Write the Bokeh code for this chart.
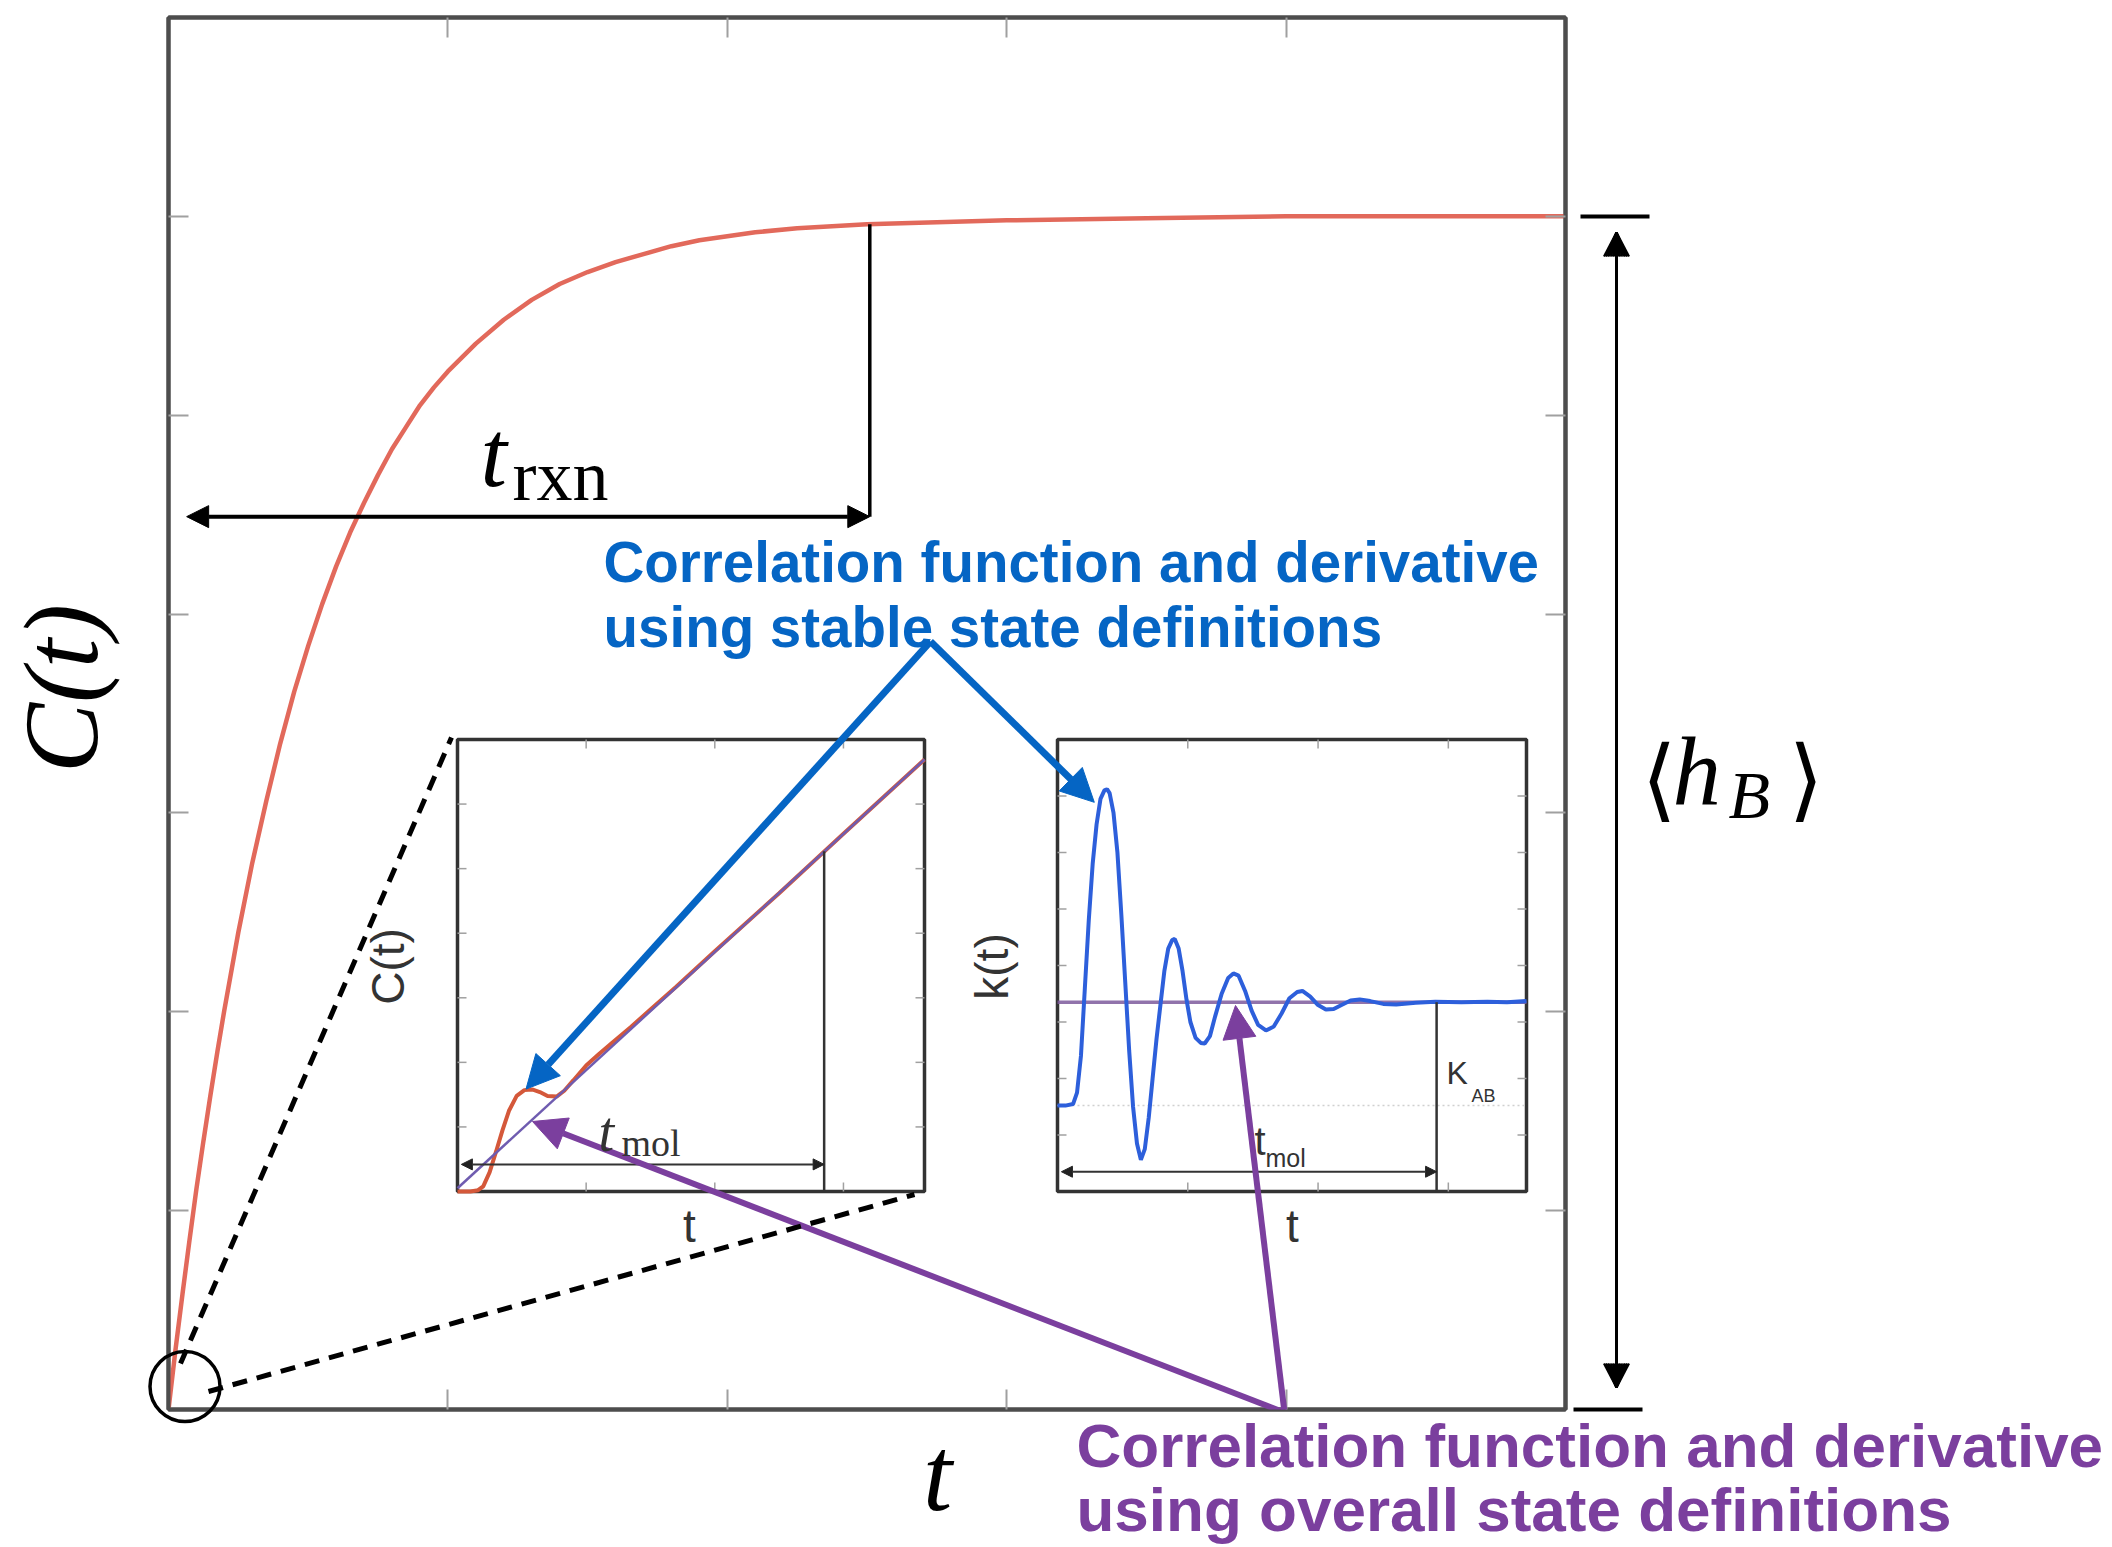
import math
from bokeh.plotting import figure
from bokeh.models import Range1d, LinearAxis, FixedTicker, Label, Arrow, NormalHead
from bokeh.core.properties import value
from bokeh.embed import file_html
from bokeh.resources import INLINE

# ---------------- data ----------------
# main panel: C(t) rising to its plateau <h_B>
main_t = [0.0, 0.025, 0.05, 0.075, 0.1, 0.125, 0.15, 0.175, 0.2, 0.25, 0.3, 0.35, 0.4, 0.45,
          0.5, 0.55, 0.6, 0.65, 0.7, 0.75, 0.8, 0.85, 0.9, 0.95, 1.0, 1.1, 1.2, 1.3, 1.4, 1.5,
          1.6, 1.7, 1.8, 1.9, 2.0, 2.1, 2.25, 2.5, 2.75, 3.0, 3.5, 4.0, 4.5, 5.0]
main_c = [0.0, 0.30, 0.58, 0.85, 1.11, 1.35, 1.58, 1.80, 2.01, 2.40, 2.75, 3.06, 3.35, 3.61,
          3.84, 4.05, 4.24, 4.41, 4.56, 4.70, 4.83, 4.94, 5.05, 5.14, 5.22, 5.36, 5.48, 5.58,
          5.66, 5.72, 5.77, 5.81, 5.85, 5.88, 5.90, 5.92, 5.94, 5.96, 5.97, 5.98, 5.99, 6.0,
          6.0, 6.0]
main_x_ticks = [1, 2, 3, 4]
main_y_ticks = [1, 2, 3, 4, 5, 6]
main_x_max = 5
main_y_max = 7
t_rxn = 2.51
t_rxn_arrow_level = 4.49
c_at_t_rxn = 5.96

# inset 1: C(t) at short times
inset1_t = [0.0, 0.10, 0.16, 0.20, 0.25, 0.30, 0.35, 0.40, 0.46, 0.52, 0.58, 0.64, 0.70,
            0.77, 0.83, 0.90, 1.00, 1.10, 1.20, 1.35, 1.50, 1.70, 2.00, 2.50, 3.00, 3.63]
inset1_c_stable = [0.0, 0.0, 0.02, 0.08, 0.30, 0.62, 0.95, 1.25, 1.48, 1.57, 1.58, 1.54, 1.48,
                   1.47, 1.56, 1.72, 1.95, 2.13, 2.30, 2.55, 2.82, 3.17, 3.72, 4.62, 5.54, 6.69]
inset1_overall_t = [0.0, 3.63]
inset1_c_overall = [0.05, 6.69]
inset1_tmol = 2.85
inset1_c_at_tmol = 5.27
inset1_tmol_arrow_level = 0.42
inset1_x_ticks = [1, 2, 3]
inset1_y_ticks = [1, 2, 3, 4, 5, 6]
inset1_x_max = 3.63
inset1_y_max = 7

# inset 2: k(t)
inset2_t = [0.0, 0.06, 0.12, 0.15, 0.18, 0.21, 0.24, 0.27, 0.30, 0.33, 0.36, 0.38, 0.40, 0.43,
            0.46, 0.49, 0.52, 0.55, 0.58, 0.61, 0.64, 0.67, 0.70, 0.73, 0.76, 0.79, 0.82, 0.85,
            0.88, 0.90, 0.93, 0.96, 0.99, 1.02, 1.06, 1.10, 1.13, 1.17, 1.21, 1.26, 1.31, 1.35,
            1.39, 1.44, 1.49, 1.54, 1.60, 1.66, 1.72, 1.78, 1.84, 1.88, 1.94, 2.00, 2.06, 2.12,
            2.18, 2.25, 2.32, 2.40, 2.50, 2.60, 2.75, 2.90, 3.10, 3.30, 3.45, 3.60]
inset2_k_stable = [1.52, 1.52, 1.55, 1.75, 2.4, 3.6, 4.8, 5.8, 6.5, 6.95, 7.1, 7.12, 7.05, 6.7,
                   6.0, 4.9, 3.7, 2.5, 1.5, 0.85, 0.56, 0.75, 1.3, 2.0, 2.7, 3.3, 3.9, 4.3,
                   4.45, 4.47, 4.3, 3.9, 3.4, 3.0, 2.72, 2.63, 2.62, 2.75, 3.1, 3.5, 3.78, 3.86,
                   3.82, 3.55, 3.2, 2.95, 2.85, 2.92, 3.15, 3.42, 3.53, 3.55, 3.45, 3.30, 3.22, 3.23,
                   3.30, 3.38, 3.40, 3.37, 3.32, 3.31, 3.34, 3.36, 3.35, 3.36, 3.35, 3.37]
inset2_k_overall = 3.35
inset2_k_start = 1.52
inset2_tmol = 2.91
inset2_tmol_arrow_level = 0.35
inset2_x_ticks = [1, 2, 3]
inset2_y_ticks = [1, 2, 3, 4, 5, 6, 7]
inset2_x_max = 3.6
inset2_y_max = 8

# ---------------- layout (page pixels) ----------------
W, H = 2112, 1547
FL, FR, FT, FB = 168, 1565, 17, 1409          # main frame
I1 = (457, 924, 739, 1191)                    # inset 1 box: left, right, top, bottom
I2 = (1057, 1526, 739, 1191)                  # inset 2 box

BLUE = "#0565C4"
PURPLE = "#7B3F9E"
RED = "#E2695B"
SERIF = "Liberation Serif"
SANS = "Liberation Sans"
BASE_SHIFT = 0.3   # empirical correction of the rendered baseline, in em


def mx(px):
    return (px - FL) / (FR - FL) * main_x_max


def my(py):
    return (FB - py) / (FB - FT) * main_y_max


def fit_range(d0, d1, p0, p1, f0, f1):
    k = (d1 - d0) / (p1 - p0)
    return Range1d(start=d0 + (f0 - p0) * k, end=d0 + (f1 - p0) * k)


p = figure(width=W, height=H, output_backend="svg", toolbar_location=None,
           x_range=Range1d(0, main_x_max), y_range=Range1d(0, main_y_max),
           x_axis_location=None, y_axis_location=None,
           min_border_left=FL, min_border_right=W - FR, min_border_top=FT,
           min_border_bottom=H - FB)
p.grid.visible = False
p.outline_line_color = "#4d4d4d"
p.outline_line_width = 4
p.background_fill_color = "white"
p.border_fill_color = "white"

for loc, ticks in [("below", main_x_ticks), ("above", main_x_ticks),
                   ("left", main_y_ticks), ("right", main_y_ticks)]:
    ax = LinearAxis(ticker=FixedTicker(ticks=ticks),
                    major_label_overrides={t: "" for t in ticks},
                    major_tick_in=20, major_tick_out=0, minor_tick_in=0, minor_tick_out=0,
                    major_label_text_font_size="1px", major_label_standoff=0,
                    axis_line_color="#4d4d4d", axis_line_width=4,
                    major_tick_line_color="#a0a0a0", major_tick_line_width=2)
    p.add_layout(ax, loc)

p.extra_x_ranges = {
    "i1x": fit_range(0, inset1_x_max, I1[0], I1[1], FL, FR),
    "i2x": fit_range(0, inset2_x_max, I2[0], I2[1], FL, FR),
}
p.extra_y_ranges = {
    "i1y": fit_range(0, inset1_y_max, I1[3], I1[2], FB, FT),
    "i2y": fit_range(0, inset2_y_max, I2[3], I2[2], FB, FT),
}

# ---- main curve ----
p.line(main_t, main_c, line_color=RED, line_width=4.5)
p.segment(x0=[t_rxn], y0=[t_rxn_arrow_level], x1=[t_rxn], y1=[c_at_t_rxn],
          line_color="black", line_width=3.5)
p.add_layout(Arrow(x_start=0.065, y_start=t_rxn_arrow_level, x_end=t_rxn, y_end=t_rxn_arrow_level,
                   start=NormalHead(size=22, fill_color="black", line_color="black"),
                   end=NormalHead(size=22, fill_color="black", line_color="black"),
                   line_color="black", line_width=4))

# ---- zoom indicator: dashed lines and circle ----
p.line([mx(180), mx(451)], [my(1363), my(737)], line_color="black", line_width=5,
       line_dash="15 10", level="overlay")
p.line([mx(208), mx(914)], [my(1391), my(1194)], line_color="black", line_width=5,
       line_dash="15 10", level="overlay")
p.scatter(x=[mx(184.5)], y=[my(1386)], size=70, marker="circle", fill_color=None,
          line_color="black", line_width=3.5, level="overlay")


def inset_frame(xr, yr, xmax, ymax, xticks, yticks, box):
    p.quad(left=[0], right=[xmax], bottom=[0], top=[ymax], x_range_name=xr, y_range_name=yr,
           fill_color="white", line_color="#333333", line_width=3.5)
    tx = 9 * xmax / (box[1] - box[0])
    ty = 9 * ymax / (box[3] - box[2])
    n = len(xticks)
    p.segment(x0=xticks, y0=[0] * n, x1=xticks, y1=[ty] * n, x_range_name=xr, y_range_name=yr,
              line_color="#a0a0a0", line_width=1.5)
    p.segment(x0=xticks, y0=[ymax] * n, x1=xticks, y1=[ymax - ty] * n, x_range_name=xr,
              y_range_name=yr, line_color="#a0a0a0", line_width=1.5)
    m = len(yticks)
    p.segment(x0=[0] * m, y0=yticks, x1=[tx] * m, y1=yticks, x_range_name=xr, y_range_name=yr,
              line_color="#a0a0a0", line_width=1.5)
    p.segment(x0=[xmax] * m, y0=yticks, x1=[xmax - tx] * m, y1=yticks, x_range_name=xr,
              y_range_name=yr, line_color="#a0a0a0", line_width=1.5)


# ---- inset 1 ----
inset_frame("i1x", "i1y", inset1_x_max, inset1_y_max, inset1_x_ticks, inset1_y_ticks, I1)
p.line(inset1_t, inset1_c_stable, x_range_name="i1x", y_range_name="i1y",
       line_color="#D4583A", line_width=4)
p.line(inset1_overall_t, inset1_c_overall, x_range_name="i1x", y_range_name="i1y",
       line_color="#6F5CB0", line_width=2.5)
p.segment(x0=[inset1_tmol], y0=[0], x1=[inset1_tmol], y1=[inset1_c_at_tmol],
          x_range_name="i1x", y_range_name="i1y", line_color="#333333", line_width=2.5)
p.add_layout(Arrow(x_start=0.03, y_start=inset1_tmol_arrow_level, x_end=inset1_tmol,
                   y_end=inset1_tmol_arrow_level, x_range_name="i1x", y_range_name="i1y",
                   start=NormalHead(size=11, fill_color="#222", line_color="#222"),
                   end=NormalHead(size=11, fill_color="#222", line_color="#222"),
                   line_color="#333333", line_width=2))

# ---- inset 2 ----
inset_frame("i2x", "i2y", inset2_x_max, inset2_y_max, inset2_x_ticks, inset2_y_ticks, I2)
p.line([0, inset2_x_max], [inset2_k_start, inset2_k_start], x_range_name="i2x",
       y_range_name="i2y", line_color="#d0d0d0", line_width=1.5, line_dash="2 3")
p.line([0, inset2_x_max], [inset2_k_overall, inset2_k_overall], x_range_name="i2x",
       y_range_name="i2y", line_color="#7E5B9C", line_width=3.5, line_alpha=0.85)
p.line(inset2_t, inset2_k_stable, x_range_name="i2x", y_range_name="i2y",
       line_color="#2D5FDB", line_width=4)
p.segment(x0=[inset2_tmol], y0=[0], x1=[inset2_tmol], y1=[inset2_k_overall],
          x_range_name="i2x", y_range_name="i2y", line_color="#333333", line_width=2.5)
p.add_layout(Arrow(x_start=0.03, y_start=inset2_tmol_arrow_level, x_end=inset2_tmol,
                   y_end=inset2_tmol_arrow_level, x_range_name="i2x", y_range_name="i2y",
                   start=NormalHead(size=11, fill_color="#222", line_color="#222"),
                   end=NormalHead(size=11, fill_color="#222", line_color="#222"),
                   line_color="#333333", line_width=2))

# ---- <h_B> arrow and bars (outside the frame: overlay-level segments are drawn there) ----
HX, HTOP, HBOT, HLEN, HHALF = 1616, 232, 1387, 24, 12.5
p.segment(x0=[mx(1580), mx(1573), mx(HX)], y0=[my(216), my(1409), my(HTOP + 10)],
          x1=[mx(1649), mx(1642), mx(HX)], y1=[my(216), my(1409), my(HBOT - 10)],
          line_color="black", line_width=[4, 4, 3], level="overlay")
# filled heads built as a fan of short strokes from the tip to the base
fan = [HX - HHALF + i * (2 * HHALF) / 14 for i in range(15)]
hx0, hy0, hx1, hy1 = [], [], [], []
for tip, base in [(HTOP, HTOP + HLEN), (HBOT, HBOT - HLEN)]:
    for bx in fan:
        hx0.append(mx(HX))
        hy0.append(my(tip))
        hx1.append(mx(bx))
        hy1.append(my(base))
p.segment(x0=hx0, y0=hy0, x1=hx1, y1=hy1, line_color="black", line_width=2.2,
          level="overlay")

# ---- annotation arrows ----
for (xs, ys), (xe, ye), col, lw in [
        ((930, 641), (525.5, 1088.6), BLUE, 7),
        ((930, 641), (1093.8, 801.8), BLUE, 7),
        ((1284, 1412), (532, 1121), PURPLE, 6),
        ((1284, 1412), (1235, 1005), PURPLE, 6)]:
    p.add_layout(Arrow(x_start=mx(xs), y_start=my(ys), x_end=mx(xe), y_end=my(ye),
                       end=NormalHead(size=33, fill_color=col, line_color=col),
                       line_color=col, line_width=lw))


def lab(px, py, text, font, size, style="normal", color="black", align="left", angle=0.0):
    s = BASE_SHIFT * size
    if angle:
        px -= s
    else:
        py -= s
    p.add_layout(Label(x=mx(px), y=my(py), text=text, text_font=font,
                       text_font_size=f"{size}px", text_font_style=style, text_color=color,
                       text_align=align, text_baseline="alphabetic", angle=angle))


def gtext(px, py, text, font, size, style="normal", color="black", align="left", angle=0.0):
    # text glyph on the overlay level, so that it may sit outside the frame
    s = BASE_SHIFT * size
    if angle:
        px -= s
    else:
        py -= s
    p.text(x=[mx(px)], y=[my(py)], text=[text], text_font=value(font),
           text_font_size=value(f"{size}px"), text_font_style=value(style),
           text_color=color, text_align=value(align), text_baseline=value("alphabetic"),
           angle=angle, level="overlay")


# main texts (outside the frame)
gtext(92, 688, "C(t)", SERIF, 105, "italic", align="center", angle=math.pi / 2)
gtext(937, 1505, "t", SERIF, 105, "italic", align="center")
gtext(1641, 805, "\u27e8", "DejaVu Sans", 90)
gtext(1672, 800, "h", SERIF, 97, "italic")
gtext(1728, 815, "B", SERIF, 68, "italic")
gtext(1788, 805, "\u27e9", "DejaVu Sans", 90)
gtext(1076, 1464, "Correlation function and derivative", SANS, 62, "bold", PURPLE)
gtext(1076, 1528, "using overall state definitions", SANS, 62, "bold", PURPLE)

# texts inside the frame
lab(480, 482, "t", SERIF, 95, "italic")
lab(512, 497, "rxn", SERIF, 72)
lab(401, 966, "C(t)", SANS, 46, color="#333333", align="center", angle=math.pi / 2)
lab(1005, 966, "k(t)", SANS, 46, color="#333333", align="center", angle=math.pi / 2)
lab(689, 1239, "t", SANS, 46, color="#333333", align="center")
lab(1292, 1239, "t", SANS, 46, color="#333333", align="center")
lab(598, 1148, "t", SERIF, 56, "italic", color="#333333")
lab(621, 1154, "mol", SERIF, 38, color="#333333")
lab(1254, 1152, "t", SANS, 40, color="#333333")
lab(1265, 1165, "mol", SANS, 25, color="#333333")
lab(1446, 1082, "K", SANS, 32, color="#333333")
lab(1471, 1101, "AB", SANS, 18, color="#333333")
lab(603, 579, "Correlation function and derivative", SANS, 56.5, "bold", BLUE)
lab(603, 644, "using stable state definitions", SANS, 56.5, "bold", BLUE)

open("out.html", "w").write(file_html(p, INLINE))
